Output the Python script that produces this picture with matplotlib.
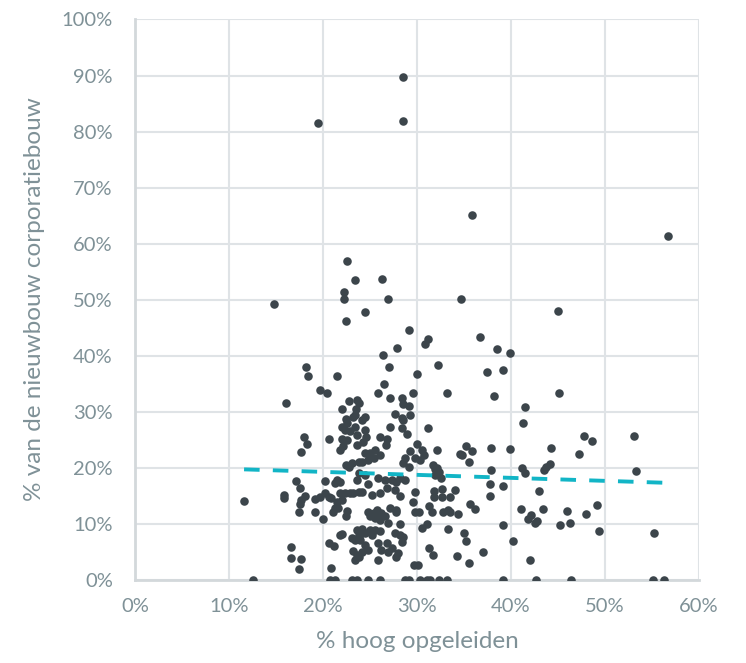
#!/usr/bin/env python3
import numpy as np
from matplotlib import pyplot as plt
from matplotlib.ticker import PercentFormatter

# % hoog opgeleiden (x) and % nieuwbouw corporatiebouw (y)
hoog = [
    28.5, 19.5, 28.5, 35.9, 56.7, 22.6, 23.4, 26.3, 22.2, 22.2, 26.9, 34.7, 14.8, 24.5, 45.0, 22.4,
    29.1, 31.2, 30.9, 36.7, 38.5, 39.9, 27.9, 26.4, 18.2, 27.0, 32.2, 37.4, 39.1, 18.4, 21.5, 30.0,
    26.5, 19.7, 20.4, 25.8, 27.1, 28.4, 29.6, 33.2, 45.1, 38.2, 16.1, 22.8, 23.6, 23.8, 41.5, 28.5,
    29.1, 22.0, 23.5, 27.7, 29.3, 23.4, 24.5, 22.4, 28.4, 41.3, 22.5, 23.2, 22.0, 22.3, 22.9, 23.4,
    23.6, 18.0, 18.3, 17.7, 20.6, 22.0, 22.5, 21.8, 22.1, 23.6, 23.1, 22.4, 22.8, 23.8, 20.2, 21.5,
    21.8, 23.6, 17.1, 17.5, 15.9, 15.9, 11.6, 18.1, 17.7, 17.5, 19.1, 19.7, 20.2, 20.6, 20.9, 21.3,
    21.8, 22.3, 22.9, 23.2, 23.8, 21.5, 22.0, 21.3, 21.1, 21.6, 22.6, 22.4, 17.4, 19.1, 20.0, 22.0,
    21.8, 20.6, 21.2, 23.1, 23.4, 23.8, 23.2, 23.6, 23.4, 16.6, 16.6, 17.7, 17.4, 20.9,
    # right-hand side
    47.8, 48.6, 53.1, 39.9, 44.3, 47.2, 41.2, 41.5, 43.7, 44.2, 43.5, 53.3, 39.1, 43.0, 41.1, 41.8,
    42.1, 42.6, 42.8, 43.4, 46.0, 45.2, 46.3, 48.0, 49.2, 49.4, 55.2, 39.1, 40.2, 42.0,
    31.2, 35.2, 34.6, 34.8, 35.9, 37.9, 35.5, 37.9, 32.3, 31.9, 37.8, 34.0, 32.7, 31.8, 31.8, 32.7,
    33.5, 37.8, 35.6, 36.2, 31.3, 31.6, 32.8, 33.3, 33.5, 34.4, 29.6, 29.8, 30.2, 30.5, 31.1, 33.3,
    35.0, 35.2, 31.3, 31.7, 34.3, 37.0, 35.5, 29.7, 30.1,
    # middle cluster
    28.5, 27.1, 28.4, 28.9, 24.1, 24.5, 24.6, 24.3, 26.1, 26.8, 26.7, 30.0, 30.5, 30.7, 30.3, 29.8,
    29.3, 32.1, 31.7, 32.1, 31.9, 24.5, 25.0, 25.5, 26.1, 25.4, 24.8, 24.1, 28.7, 28.5, 29.1, 23.8,
    24.5, 25.9, 26.6, 27.3, 28.2, 28.7, 32.6, 24.8, 27.8,
    24.1, 25.2, 26.1, 26.8, 27.7, 28.2, 29.8, 24.8, 25.4, 25.7, 26.2, 25.0, 25.5, 26.1, 26.6, 27.1,
    27.8, 27.8, 26.9, 28.2, 23.6, 24.1, 23.8, 24.5, 23.9, 25.0, 25.5, 26.1, 25.2, 27.7, 28.2, 28.5,
    28.4, 25.9, 26.8, 24.5, 24.8, 24.1, 23.8, 26.2, 26.9, 27.3, 27.8, 28.0, 25.9,
    # zeros
    12.6, 20.7, 21.3, 23.1, 23.6, 24.8, 26.1, 28.7, 29.1, 30.3, 31.1, 31.4, 32.3, 33.2, 39.2, 42.7,
    46.4, 55.1, 56.3,
]
nieuwbouw = [
    89.7, 81.5, 81.8, 65.1, 61.3, 56.9, 53.5, 53.6, 51.4, 50.1, 50.1, 50.1, 49.3, 47.7, 47.9, 46.1,
    44.6, 43.0, 42.0, 43.3, 41.1, 40.5, 41.4, 40.1, 38.0, 38.0, 38.3, 37.0, 37.4, 36.4, 36.4, 36.7,
    34.9, 33.9, 33.4, 33.4, 32.5, 32.5, 33.3, 33.4, 33.3, 32.8, 31.6, 31.9, 32.1, 31.6, 30.9, 31.4,
    31.0, 30.4, 30.4, 29.6, 29.4, 29.4, 29.0, 28.6, 28.9, 27.9, 28.0, 29.1, 27.3, 26.7, 26.6, 27.3,
    25.8, 25.5, 24.3, 22.8, 25.1, 25.2, 24.9, 23.2, 23.8, 24.1, 20.8, 20.5, 20.2, 21.1, 17.7, 17.8,
    17.5, 17.8, 17.7, 16.4, 15.1, 14.6, 14.0, 14.9, 14.2, 13.6, 14.4, 14.7, 15.4, 14.7, 14.5, 17.2,
    15.4, 15.4, 15.4, 15.5, 15.7, 13.9, 14.2, 12.8, 12.1, 12.8, 12.3, 11.4, 12.0, 12.0, 10.8, 8.2,
    8.0, 6.6, 6.0, 7.4, 7.1, 7.7, 5.2, 4.4, 3.5, 5.8, 3.9, 3.75, 1.9, 2.1,
    25.7, 24.7, 25.6, 23.3, 23.5, 22.5, 19.9, 19.1, 20.1, 20.6, 19.5, 19.4, 16.7, 15.9, 12.7, 10.8,
    11.6, 10.1, 10.4, 12.6, 12.3, 9.8, 10.2, 11.8, 13.4, 8.75, 8.4, 9.8, 6.9, 3.5,
    27.0, 23.9, 22.4, 22.3, 22.9, 23.6, 21.0, 19.6, 19.3, 19.7, 17.1, 16.0, 16.2, 15.8, 14.7, 14.7,
    14.7, 15.0, 13.6, 12.6, 13.2, 12.1, 12.0, 12.4, 12.0, 11.7, 13.8, 12.0, 12.0, 9.2, 9.9, 9.0,
    8.3, 6.9, 5.6, 4.4, 4.2, 4.9, 3.0, 2.6, 2.6,
    28.5, 27.2, 27.0, 26.1, 28.5, 26.7, 25.5, 24.6, 25.4, 25.1, 24.1, 24.2, 23.2, 22.3, 21.4, 21.7,
    22.9, 23.2, 20.5, 19.9, 18.7, 22.6, 22.6, 23.2, 22.3, 21.7, 21.4, 21.1, 21.7, 20.8, 20.2, 19.0,
    18.7, 18.1, 17.8, 17.8, 18.1, 17.8, 18.1, 17.1, 17.5,
    15.7, 15.1, 15.4, 16.3, 16.0, 14.9, 15.7, 12.1, 11.9, 12.4, 11.9, 11.3, 11.0, 10.7, 11.3, 12.8,
    12.4, 12.0, 10.2, 9.9, 8.9, 9.0, 8.0, 8.3, 7.1, 8.9, 8.9, 8.75, 8.0, 8.3, 8.0, 7.7,
    6.8, 6.6, 6.6, 6.2, 5.3, 5.0, 4.1, 5.3, 5.0, 5.6, 4.1, 4.7, 3.5,
    0, 0, 0, 0, 0, 0, 0, 0, 0, 0, 0, 0, 0, 0, 0, 0,
    0, 0, 0,
]

# lineaire trendlijn zoals in de grafiek (begin- en eindpunt)
trend_x = [11.6, 56.5]
trend_y = [19.7, 17.3]

grijs = '#7f9197'

fig = plt.figure(figsize=(7.46, 6.63), dpi=100)
ax = fig.add_axes([0.181, 0.1256, 0.756, 0.845])
ax.scatter(hoog, nieuwbouw, s=38, color='#3c454b', linewidths=0, zorder=3)
ax.plot(trend_x, trend_y, color='#12b5c6', lw=2.8, ls=(0, (4.0, 3.4)), zorder=4)

ax.set_xlim(0, 60)
ax.set_ylim(0, 100)
ax.set_xticks(np.arange(0, 61, 10))
ax.set_yticks(np.arange(0, 101, 10))
ax.xaxis.set_major_formatter(PercentFormatter(decimals=0))
ax.yaxis.set_major_formatter(PercentFormatter(decimals=0))
ax.grid(True, color='#dfe3e6', lw=1.5, zorder=0)
ax.set_axisbelow(True)
for side in ['top', 'right']:
    ax.spines[side].set_visible(False)
for side in ['left', 'bottom']:
    ax.spines[side].set_color('#d3d8db')
    ax.spines[side].set_linewidth(2)
ax.tick_params(length=0, labelsize=14.5, labelcolor=grijs, labelfontfamily='Lato')
ax.tick_params(axis='y', pad=16)
ax.tick_params(axis='x', pad=13)
ax.set_xlabel('% hoog opgeleiden', fontsize=17.5, color=grijs, family='Lato', labelpad=12)
ax.set_ylabel('% van de nieuwbouw corporatiebouw', fontsize=17.5, color=grijs, family='Lato', labelpad=12)

fig.savefig('out.png', dpi=100)
